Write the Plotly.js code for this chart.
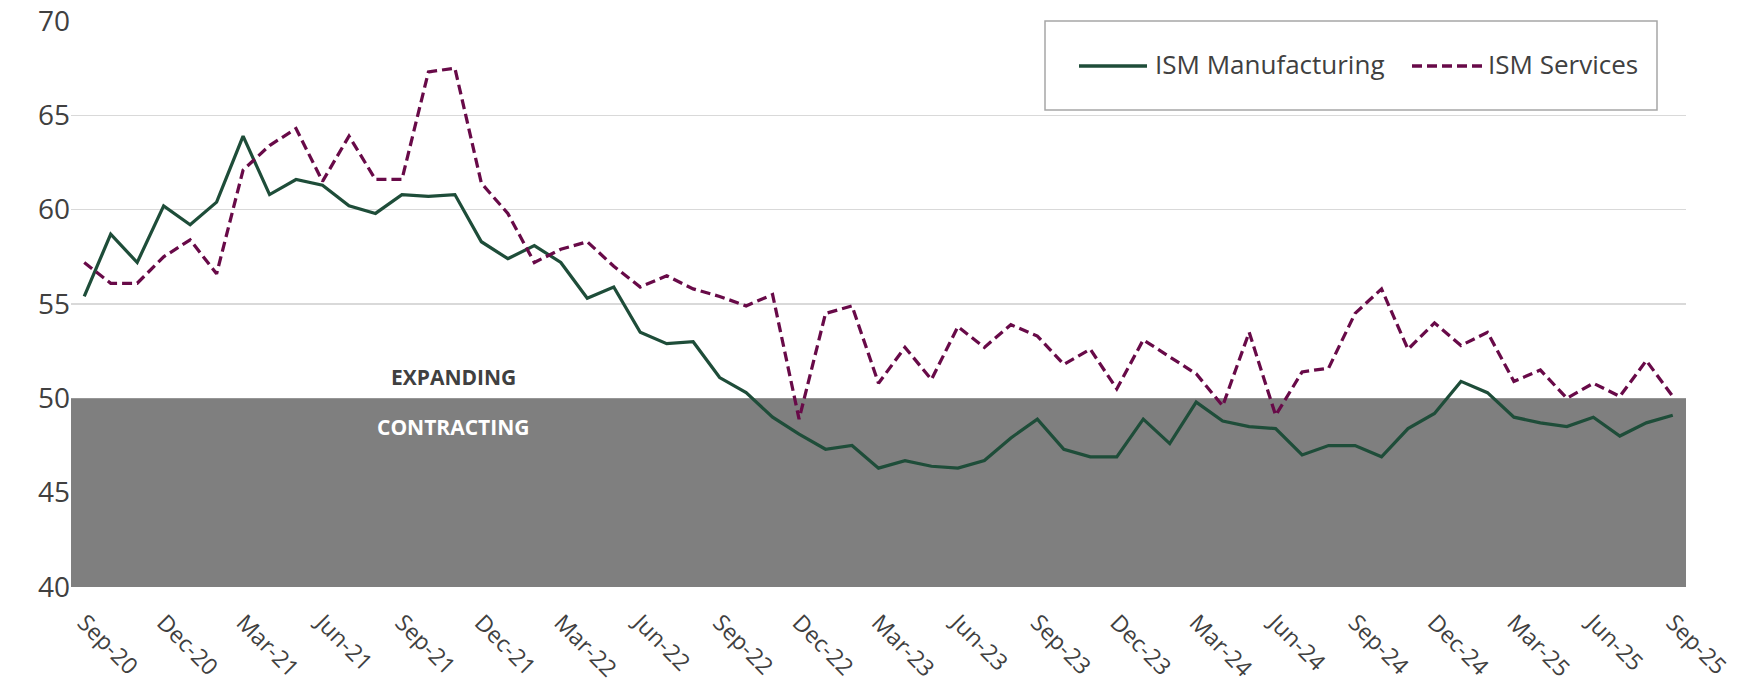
<!DOCTYPE html>
<html>
<head>
<meta charset="utf-8">
<script src="https://cdn.plot.ly/plotly-3.0.1.min.js"></script>
<style>
  html, body { margin: 0; padding: 0; background: #ffffff; }
  #chart { width: 1754px; height: 684px; }
</style>
</head>
<body>
<div id="chart"></div>
<script>
// ---- Data ----
const months = [
  "Sep-20","Oct-20","Nov-20","Dec-20","Jan-21","Feb-21","Mar-21","Apr-21","May-21","Jun-21","Jul-21","Aug-21",
  "Sep-21","Oct-21","Nov-21","Dec-21","Jan-22","Feb-22","Mar-22","Apr-22","May-22","Jun-22","Jul-22","Aug-22",
  "Sep-22","Oct-22","Nov-22","Dec-22","Jan-23","Feb-23","Mar-23","Apr-23","May-23","Jun-23","Jul-23","Aug-23",
  "Sep-23","Oct-23","Nov-23","Dec-23","Jan-24","Feb-24","Mar-24","Apr-24","May-24","Jun-24","Jul-24","Aug-24",
  "Sep-24","Oct-24","Nov-24","Dec-24","Jan-25","Feb-25","Mar-25","Apr-25","May-25","Jun-25","Jul-25","Aug-25",
  "Sep-25"
];

const ismManufacturing = [
  55.4, 58.7, 57.2, 60.2, 59.2, 60.4, 63.9, 60.8, 61.6, 61.3, 60.2, 59.8,
  60.8, 60.7, 60.8, 58.3, 57.4, 58.1, 57.2, 55.3, 55.9, 53.5, 52.9, 53.0,
  51.1, 50.3, 49.0, 48.1, 47.3, 47.5, 46.3, 46.7, 46.4, 46.3, 46.7, 47.9,
  48.9, 47.3, 46.9, 46.9, 48.9, 47.6, 49.8, 48.8, 48.5, 48.4, 47.0, 47.5,
  47.5, 46.9, 48.4, 49.2, 50.9, 50.3, 49.0, 48.7, 48.5, 49.0, 48.0, 48.7,
  49.1
];

const ismServices = [
  57.2, 56.1, 56.1, 57.5, 58.4, 56.6, 62.1, 63.4, 64.3, 61.5, 63.9, 61.6,
  61.6, 67.3, 67.5, 61.4, 59.8, 57.2, 57.9, 58.3, 57.0, 55.9, 56.5, 55.8,
  55.4, 54.9, 55.5, 48.9, 54.5, 54.9, 50.8, 52.7, 51.0, 53.8, 52.7, 53.9,
  53.3, 51.8, 52.6, 50.5, 53.1, 52.2, 51.3, 49.6, 53.5, 49.1, 51.4, 51.6,
  54.5, 55.8, 52.6, 54.0, 52.8, 53.5, 50.9, 51.5, 50.0, 50.8, 50.1, 52.0,
  50.1
];

const tickLabels = [
  "Sep-20","Dec-20","Mar-21","Jun-21","Sep-21","Dec-21","Mar-22","Jun-22","Sep-22",
  "Dec-22","Mar-23","Jun-23","Sep-23","Dec-23","Mar-24","Jun-24","Sep-24","Dec-24",
  "Mar-25","Jun-25","Sep-25"
];

const seriesNames = ["ISM Manufacturing", "ISM Services"];
const zoneLabels = ["EXPANDING", "CONTRACTING"];
const threshold = 50;
const yMin = 40, yMax = 70;

// ---- Styles ----
const mfgColor = "#1e4d39";
const svcColor = "#680a48";
const textColor = "#404040";
const fontFam = "'Open Sans', 'Noto Sans', sans-serif";

const traces = [
  {
    // contracting zone (below 50): on the base (hidden, full-width) x axis, so it
    // sits above the y gridlines but below the series drawn on the overlaying axis
    x: [0, 1, 1, 0, 0], y: [yMin, yMin, threshold, threshold, yMin],
    xaxis: "x", yaxis: "y", type: "scatter", mode: "lines", fill: "toself",
    fillcolor: "#7f7f7f", line: { width: 0, color: "#7f7f7f" }, showlegend: false, hoverinfo: "skip"
  },
  {
    x: months, y: ismManufacturing, name: seriesNames[0], type: "scatter", mode: "lines",
    xaxis: "x2", yaxis: "y",
    line: { color: mfgColor, width: 3.25 }, showlegend: false, hoverinfo: "x+y+name"
  },
  {
    x: months, y: ismServices, name: seriesNames[1], type: "scatter", mode: "lines",
    xaxis: "x2", yaxis: "y",
    line: { color: svcColor, width: 3.25, dash: "10px,5px" }, showlegend: false, hoverinfo: "x+y+name"
  }
];

// plot area in pixels: left 71, right 1686, top 21, bottom 587
const L = 71, R = 1686, T = 21, B = 587;
const px = v => (v - L) / (R - L);
const py = v => 1 - (v - T) / (B - T);

const layout = {
  width: 1754, height: 684,
  margin: { l: L, r: 1754 - R, t: T, b: 684 - B, pad: 0 },
  paper_bgcolor: "#ffffff",
  plot_bgcolor: "#ffffff",
  font: { family: fontFam, color: textColor },
  showlegend: false,
  xaxis: {
    range: [0, 1], showgrid: false, zeroline: false, showline: false,
    showticklabels: false, ticks: "", fixedrange: true
  },
  xaxis2: {
    type: "category", overlaying: "x", side: "bottom",
    range: [-0.5, months.length - 0.5],
    showgrid: false, zeroline: false, showline: false,
    tickmode: "array", tickvals: tickLabels, ticktext: tickLabels,
    tickangle: 45,
    ticks: "outside", ticklen: 12, tickcolor: "rgba(0,0,0,0)",
    tickfont: { family: fontFam, size: 23, color: textColor }
  },
  yaxis: {
    range: [yMin, yMax], dtick: 5, tick0: 40,
    showgrid: true, gridcolor: "#d9d9d9", gridwidth: 1.5,
    zeroline: false, showline: false,
    ticks: "", ticklen: 0,
    tickfont: { family: fontFam, size: 28, color: textColor }
  },
  shapes: [
    // legend box
    {
      type: "rect", xref: "paper", yref: "paper",
      x0: px(1045), x1: px(1657), y0: py(110), y1: py(21),
      fillcolor: "#ffffff", line: { color: "#a6a6a6", width: 1.5 }, layer: "above"
    },
    {
      type: "line", xref: "paper", yref: "paper",
      x0: px(1079), x1: px(1147), y0: py(66), y1: py(66),
      line: { color: mfgColor, width: 3.5 }, layer: "above"
    },
    {
      type: "line", xref: "paper", yref: "paper",
      x0: px(1412), x1: px(1482), y0: py(66), y1: py(66),
      line: { color: svcColor, width: 3.5, dash: "10px,5px" }, layer: "above"
    }
  ],
  annotations: [
    {
      xref: "paper", yref: "y", x: px(453.5), y: 51.15, text: zoneLabels[0], showarrow: false,
      font: { family: fontFam, size: 21, color: textColor, weight: 700 }, xanchor: "center", yanchor: "middle"
    },
    {
      xref: "paper", yref: "y", x: px(452.5), y: 48.5, text: zoneLabels[1], showarrow: false,
      font: { family: fontFam, size: 21, color: "#ffffff", weight: 700 }, xanchor: "center", yanchor: "middle"
    },
    {
      xref: "paper", yref: "paper", x: px(1153), y: py(64), text: seriesNames[0], showarrow: false,
      font: { family: fontFam, size: 26, color: textColor }, xanchor: "left", yanchor: "middle"
    },
    {
      xref: "paper", yref: "paper", x: px(1486), y: py(64), text: seriesNames[1], showarrow: false,
      font: { family: fontFam, size: 26, color: textColor }, xanchor: "left", yanchor: "middle"
    }
  ]
};

Plotly.newPlot("chart", traces, layout, { displayModeBar: false, staticPlot: true });
</script>
</body>
</html>
